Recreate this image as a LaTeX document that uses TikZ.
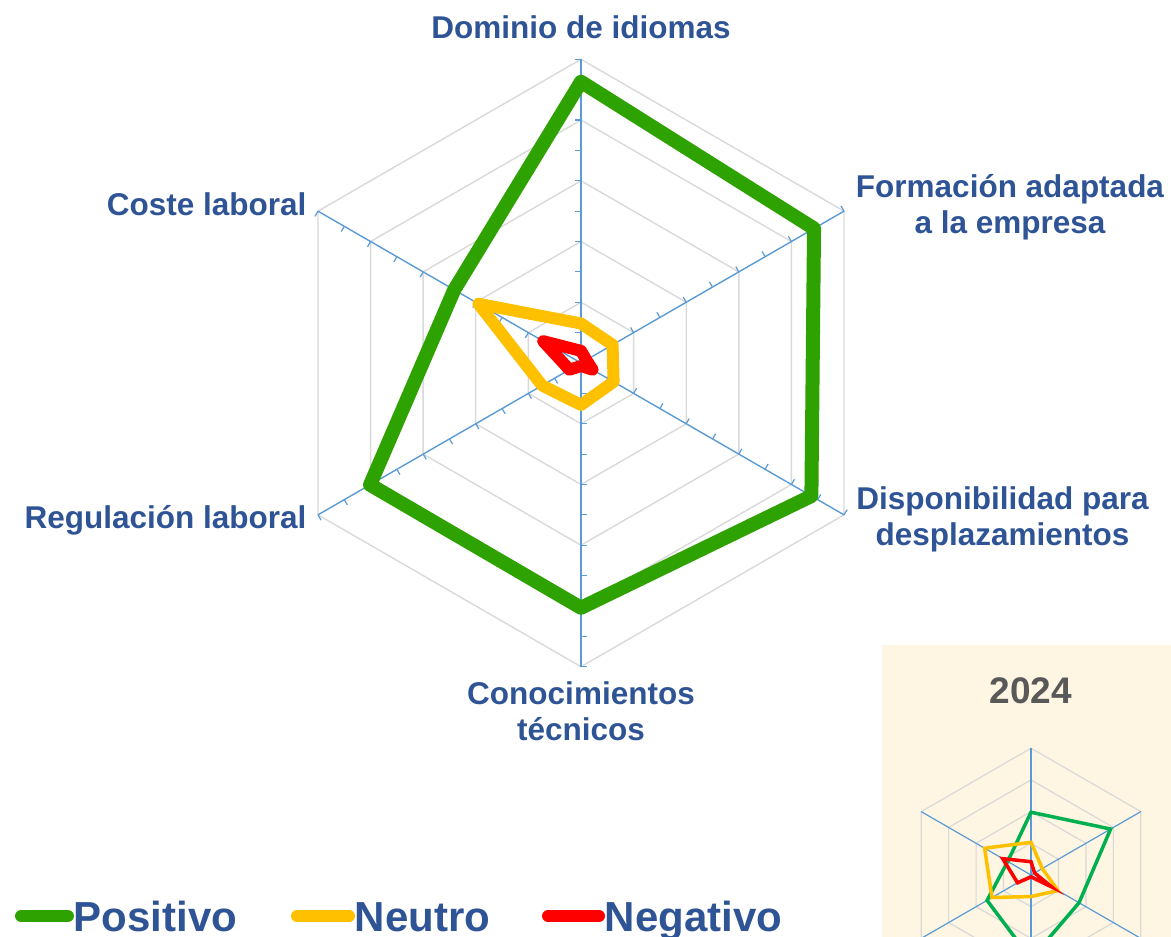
\documentclass[tikz,border=0pt]{standalone}
\usepackage{fontspec}
\setmainfont{Liberation Sans}
\usetikzlibrary{positioning}
\definecolor{labelblue}{HTML}{2F5496}
\definecolor{axisblue}{HTML}{5B9BD5}
\definecolor{gridgrey}{HTML}{D9D9D9}
\definecolor{posgreen}{HTML}{2EA200}
\definecolor{neuyellow}{HTML}{FFC000}
\definecolor{negred}{HTML}{FF0000}
\definecolor{insetgreen}{HTML}{00B050}
\definecolor{insetbg}{HTML}{FEF5E2}
\definecolor{titlegrey}{HTML}{595959}
\tikzstyle{gridline} = [draw=gridgrey, line width=1.4pt]
\tikzstyle{spoke} = [draw=axisblue, line width=1.4pt]
\tikzstyle{axistick} = [draw=axisblue, line width=1.2pt]
\tikzstyle{axislabel} = [text=labelblue, font=\fontsize{31.5}{36}\selectfont\bfseries, inner sep=0pt, align=center, anchor=base]
\tikzstyle{series} = [line width=12pt, line join=round, line cap=round]
\tikzstyle{smallseries} = [line width=3.5pt, line join=miter]
\tikzstyle{legendbar} = [line width=12pt, line cap=round]
\tikzstyle{legendtext} = [text=labelblue, font=\fontsize{42}{48}\selectfont\bfseries, inner sep=0pt, text height=30pt, text depth=0pt, anchor=west]

\begin{document}
\begin{tikzpicture}[x=1pt, y=-1pt]
\useasboundingbox (0,0) rectangle (1171,937);
\clip (0,0) rectangle (1171,937);

% main radar
\begin{scope}[shift={(581,363)}, x=60.74pt, y=60.74pt]
\foreach \r in {1,...,5}
  \draw[gridline] (90:\r) -- (30:\r) -- (-30:\r) -- (-90:\r) -- (-150:\r) -- (150:\r) -- cycle;
\foreach \a in {90,30,-30,-90,-150,150} {
  \draw[spoke] (0,0) -- (\a:5);
  \foreach \t in {1,...,10}
    \draw[axistick] (\a:\t*0.5) -- ++(\a+90:0.1);
}
\draw[series, posgreen, line width=14pt] (90:4.63) -- (30:4.43) -- (-30:4.38) -- (-90:4.03) -- (-150:4.01) -- (150:2.41) -- cycle;
\draw[series, neuyellow] (90:0.65) -- (30:0.6) -- (-30:0.62) -- (-90:0.69) -- (-150:0.74) -- (150:1.95) -- cycle;
\draw[series, negred] (90:0.2) -- (30:0.1) -- (-30:0.22) -- (-90:0.05) -- (-150:0.22) -- (150:0.72) -- cycle;
\end{scope}

\node (dominio) [axislabel] at (581,38.3) {Dominio de idiomas};
\node (formacion) [axislabel] at (1010,233) {Formación adaptada\\a la empresa};
\node (disponibilidad) [axislabel] at (1002.5,545) {Disponibilidad para\\desplazamientos};
\node (conocimientos) [axislabel] at (581,740) {Conocimientos\\técnicos};
\node (regulacion) [axislabel, anchor=base east] at (306.7,528) {Regulación laboral};
\node (coste) [axislabel, anchor=base east] at (306.7,215) {Coste laboral};

% 2024 inset
\fill[insetbg] (882,645) rectangle (1171,937);
\node (year) [text=titlegrey, font=\fontsize{37}{44}\selectfont\bfseries, inner sep=0pt, anchor=base] at (1031,703.3) {2024};
\begin{scope}[shift={(1031,875)}, x=31.7pt, y=31.7pt]
\foreach \r in {1,...,4}
  \draw[gridline, line width=1.2pt] (90:\r) -- (30:\r) -- (-30:\r) -- (-90:\r) -- (-150:\r) -- (150:\r) -- cycle;
\foreach \a in {90,30,-30,-90,-150,150}
  \draw[spoke, line width=1.2pt] (0,0) -- (\a:4);
\draw[smallseries, insetgreen] (90:1.98) -- (30:2.9) -- (-30:1.75) -- (-90:2.65) -- (-150:1.6) -- (150:0.85) -- cycle;
\draw[smallseries, neuyellow] (90:1.03) -- (30:0.41) -- (-30:0.98) -- (-90:0.68) -- (-150:1.42) -- (150:1.69) -- cycle;
\draw[smallseries, negred] (90:0.42) -- (30:0.13) -- (-30:0.76) -- (-90:0.06) -- (-150:0.49) -- (150:1.03) -- cycle;
\end{scope}

% legend
\coordinate (posA) at (21,916);
\coordinate (posB) at (68,916);
\coordinate (neuA) at (297,916);
\coordinate (neuB) at (349,916);
\coordinate (negA) at (548,916);
\coordinate (negB) at (599,916);
\draw[legendbar, posgreen] (posA) -- (posB);
\draw[legendbar, neuyellow] (neuA) -- (neuB);
\draw[legendbar, negred] (negA) -- (negB);
\node (positivo) [legendtext, right=5.5pt of posB] {Positivo};
\node (neutro) [legendtext, right=5.5pt of neuB] {Neutro};
\node (negativo) [legendtext, right=5.5pt of negB] {Negativo};
\end{tikzpicture}
\end{document}
